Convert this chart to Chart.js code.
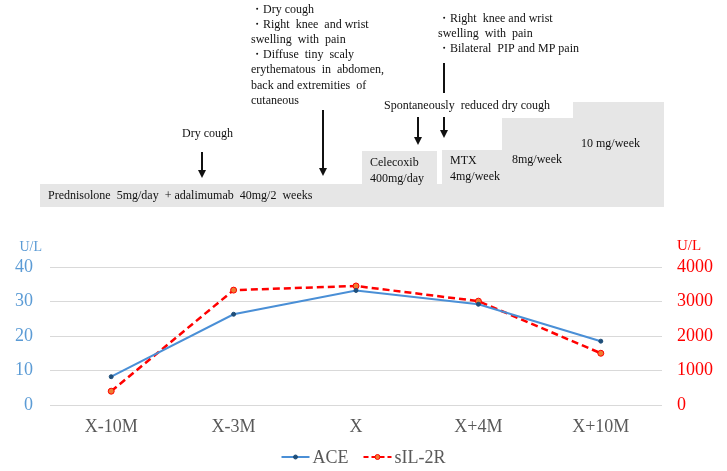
<!DOCTYPE html>
<html>
<head>
<meta charset="utf-8">
<script src="https://cdn.jsdelivr.net/npm/chart.js@4.4.0/dist/chart.umd.min.js"></script>
<style>
  html, body { margin: 0; padding: 0; background: #fff; }
  #wrap { width: 727px; height: 471px; position: relative; }
</style>
</head>
<body>
<div id="wrap"><canvas id="chart"></canvas></div>
<script>
// Datos del gráfico
const categories = ['X-10M', 'X-3M', 'X', 'X+4M', 'X+10M'];
const aceValues = [8.2, 26.3, 33.2, 29.2, 18.5];
const sil2rValues = [400, 3330, 3450, 3010, 1500];
const leftTicks = [0, 10, 20, 30, 40];
const rightTicks = [0, 1000, 2000, 3000, 4000];
const unitLabel = 'U/L';

// Textos de la línea de tiempo (parte superior)
const noteDryCough = 'Dry cough';
const noteFlare = ['・Dry cough', '・Right  knee  and wrist', 'swelling  with  pain', '・Diffuse  tiny  scaly',
  'erythematous  in  abdomen,', 'back and extremities  of', 'cutaneous'];
const noteJoints = ['・Right  knee and wrist', 'swelling  with  pain', '・Bilateral  PIP and MP pain'];
const noteReduced = 'Spontaneously  reduced dry cough';
const drugBase = 'Prednisolone  5mg/day  + adalimumab  40mg/2  weeks';
const drugCelecoxib = ['Celecoxib', '400mg/day'];
const drugMtx = ['MTX', '4mg/week'];
const drugMtx8 = '8mg/week';
const drugMtx10 = '10 mg/week';

const SERIF = '"Liberation Serif", "Times New Roman", serif';
const BLUE = '#4a8fd6';
const BLUE_DOT = '#1f4e79';
const RED = '#ff0000';
const ORANGE = '#ed7d31';
const GRAY_BOX = '#e6e6e6';

function arrow(ctx, x, y1, y2, head) {
  ctx.strokeStyle = '#111';
  ctx.fillStyle = '#111';
  ctx.lineWidth = 2;
  ctx.beginPath();
  ctx.moveTo(x, y1);
  ctx.lineTo(x, head ? y2 - 7 : y2);
  ctx.stroke();
  if (head) {
    ctx.beginPath();
    ctx.moveTo(x - 4, y2 - 8);
    ctx.lineTo(x + 4, y2 - 8);
    ctx.lineTo(x, y2);
    ctx.closePath();
    ctx.fill();
  }
}

function lines(ctx, arr, x, y0, step) {
  arr.forEach((t, i) => ctx.fillText(t, x, y0 + i * step));
}

// Plugin: línea de tiempo, unidades y leyenda (línea + punto)
const timelinePlugin = {
  id: 'timeline',
  afterDraw(chart) {
    const ctx = chart.ctx;
    ctx.save();

    // Cajas de tratamiento
    ctx.fillStyle = GRAY_BOX;
    ctx.fillRect(40, 184, 624, 23);
    ctx.fillRect(362, 151, 75, 33);
    ctx.fillRect(442, 150, 60, 34);
    ctx.fillRect(502, 118, 71, 66);
    ctx.fillRect(573, 102, 91, 82);

    ctx.fillStyle = '#111';
    ctx.font = '12px ' + SERIF;
    ctx.textBaseline = 'middle';
    ctx.textAlign = 'left';

    ctx.fillText(drugBase, 48, 196);
    lines(ctx, drugCelecoxib, 370, 163, 16);
    lines(ctx, drugMtx, 450, 161, 16);
    ctx.fillText(drugMtx8, 512, 160);
    ctx.fillText(drugMtx10, 581, 144);

    ctx.fillText(noteDryCough, 182, 134);
    lines(ctx, noteFlare, 251, 9.5, 15.2);
    lines(ctx, noteJoints, 438, 18.5, 15);
    ctx.fillText(noteReduced, 384, 106);

    arrow(ctx, 202, 152, 178, true);
    arrow(ctx, 323, 110, 176, true);
    arrow(ctx, 444, 63, 93, false);
    arrow(ctx, 444, 117, 138, true);
    arrow(ctx, 418, 117, 145, true);

    // Unidades
    const ya = chart.scales.y;
    const yb = chart.scales.y1;
    ctx.font = '14px ' + SERIF;
    ctx.fillStyle = '#5b9bd5';
    ctx.textAlign = 'right';
    ctx.fillText(unitLabel, ya.right - 8, 247);
    ctx.font = '15px ' + SERIF;
    ctx.fillStyle = RED;
    ctx.textAlign = 'left';
    ctx.fillText(unitLabel, yb.left + 15, 246);

    // Leyenda
    ctx.font = '18px ' + SERIF;
    const sets = chart.data.datasets;
    const iconW = 28, gapText = 3, gapItem = 15;
    const widths = sets.map(d => iconW + gapText + ctx.measureText(d.label).width);
    const total = widths.reduce((a, b) => a + b, 0) + gapItem * (sets.length - 1);
    let x = chart.width / 2 - total / 2;
    const ly = 457;
    sets.forEach((d, i) => {
      ctx.strokeStyle = d.borderColor;
      ctx.lineWidth = 2;
      ctx.setLineDash(d.borderDash ? [5, 3] : []);
      ctx.beginPath(); ctx.moveTo(x, ly); ctx.lineTo(x + iconW, ly); ctx.stroke();
      ctx.setLineDash([]);
      ctx.fillStyle = d.pointBackgroundColor;
      ctx.strokeStyle = d.pointBorderColor;
      ctx.lineWidth = 1;
      ctx.beginPath(); ctx.arc(x + iconW / 2, ly, i === 0 ? 2 : 2.5, 0, Math.PI * 2); ctx.fill(); ctx.stroke();
      ctx.fillStyle = '#595959';
      ctx.textAlign = 'left';
      ctx.fillText(d.label, x + iconW + gapText, ly + 1);
      x += widths[i] + gapItem;
    });

    ctx.restore();
  }
};

new Chart(document.getElementById('chart'), {
  type: 'line',
  data: {
    labels: categories,
    datasets: [
      {
        label: 'ACE',
        data: aceValues,
        yAxisID: 'y',
        borderColor: BLUE,
        borderWidth: 2,
        pointRadius: 2,
        pointBorderWidth: 1,
        pointBackgroundColor: BLUE_DOT,
        pointBorderColor: BLUE_DOT,
        tension: 0
      },
      {
        label: 'sIL-2R',
        data: sil2rValues,
        yAxisID: 'y1',
        borderColor: RED,
        borderWidth: 2.5,
        borderDash: [7, 4],
        pointRadius: 3,
        pointBackgroundColor: ORANGE,
        pointBorderColor: RED,
        pointBorderWidth: 1,
        tension: 0
      }
    ]
  },
  options: {
    responsive: true,
    maintainAspectRatio: false,
    animation: false,
    layout: { padding: { top: 267, left: 0, right: 0, bottom: 26 } },
    scales: {
      x: {
        offset: true,
        grid: { display: false, drawTicks: false },
        border: { display: false },
        ticks: { color: '#595959', padding: 11, font: { family: SERIF, size: 18 } },
        afterFit: s => { s.height = 40; }
      },
      y: {
        position: 'left',
        min: 0,
        max: 40,
        afterBuildTicks: s => { s.ticks = leftTicks.map(v => ({ value: v })); },
        grid: { color: '#d9d9d9', lineWidth: 1, drawTicks: false },
        border: { display: false },
        ticks: { color: '#5b9bd5', padding: 17, font: { family: SERIF, size: 18 }, callback: v => String(v) },
        afterFit: s => { s.width = 50; }
      },
      y1: {
        position: 'right',
        min: 0,
        max: 4000,
        afterBuildTicks: s => { s.ticks = rightTicks.map(v => ({ value: v })); },
        grid: { display: false, drawTicks: false },
        border: { display: false },
        ticks: { color: RED, padding: 15, font: { family: SERIF, size: 18 }, callback: v => String(v) },
        afterFit: s => { s.width = 65; }
      }
    },
    plugins: {
      legend: { display: false },
      tooltip: { enabled: false }
    }
  },
  plugins: [timelinePlugin]
});
</script>
</body>
</html>
